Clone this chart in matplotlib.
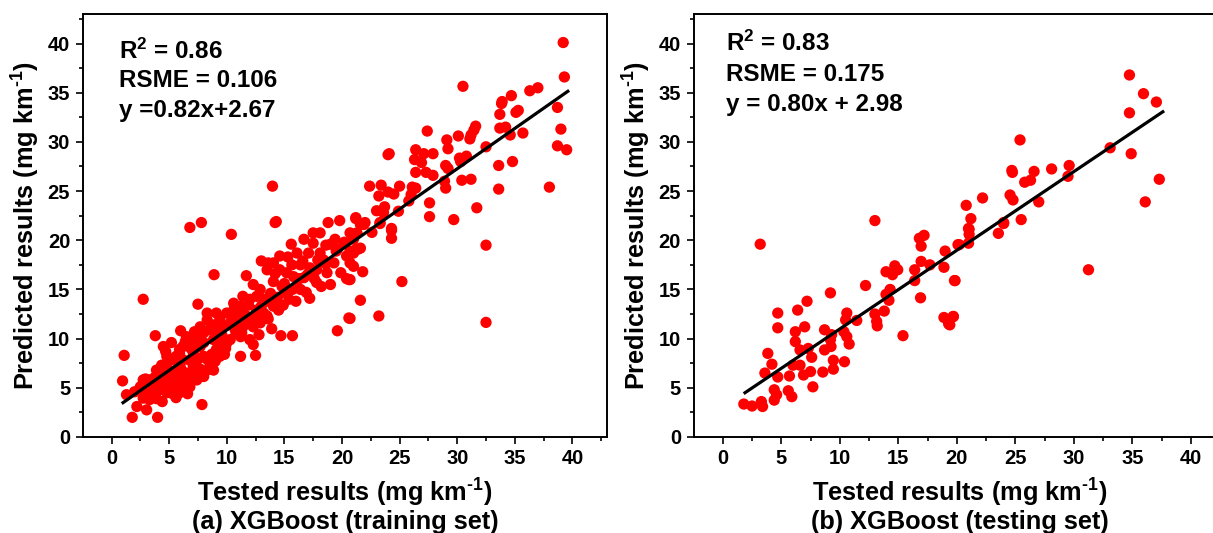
import matplotlib
matplotlib.use("Agg")
import matplotlib.pyplot as plt
import numpy as np

plt.rcParams['font.family'] = ['Liberation Sans', 'DejaVu Sans']
plt.rcParams['font.weight'] = 'bold'
plt.rcParams['mathtext.fontset'] = 'custom'
plt.rcParams['mathtext.rm'] = 'Liberation Sans:bold'
plt.rcParams['mathtext.bf'] = 'Liberation Sans:bold'
plt.rcParams['mathtext.it'] = 'Liberation Sans:bold'

# ---------------- data: training set (tested, predicted) ----------------
train_pts = [
    (13.97, 25.5), (7.8, 21.8), (6.8, 21.3), (14.3, 21.9), (18.8, 21.8), (19.8, 22.0), (21.2, 22.3),
    (39.2, 40.1), (39.3, 36.6), (30.5, 35.65), (37.0, 35.5), (36.3, 35.2), (34.7, 34.7), (33.9, 34.1),
    (33.85, 33.9), (38.7, 33.5), (35.3, 33.2), (35.1, 33.0), (33.7, 32.8), (31.6, 31.6), (34.2, 31.5),
    (33.7, 31.4), (31.45, 31.2), (39.0, 31.3), (27.4, 31.1), (31.2, 30.7), (34.6, 30.7), (35.7, 30.9),
    (30.1, 30.6), (31.1, 30.3), (29.1, 30.2), (29.2, 29.3), (32.5, 29.5), (38.7, 29.6), (39.5, 29.2),
    (24.1, 28.8), (24.0, 28.7), (26.4, 29.2), (27.1, 28.8), (27.9, 28.8), (26.3, 28.2), (26.9, 27.9),
    (30.2, 28.35), (30.8, 28.55), (30.3, 28.0), (29.0, 27.6), (29.2, 27.3), (33.6, 27.6), (34.8, 28.0),
    (26.4, 26.9), (27.3, 26.9), (27.9, 26.6), (28.9, 26.0), (30.4, 26.1), (31.2, 26.2), (22.4, 25.5),
    (23.4, 25.6), (25.0, 25.5), (29.0, 25.3), (38.0, 25.4), (33.6, 25.2), (23.2, 24.5), (24.0, 24.9),
    (24.5, 24.7), (26.1, 25.4), (26.4, 25.3), (26.0, 24.65), (25.8, 24.0), (27.6, 23.8), (31.7, 23.3),
    (27.6, 22.4), (29.7, 22.1), (23.0, 23.0), (23.7, 23.4), (23.6, 22.8), (24.9, 22.95), (21.2, 22.2),
    (22.0, 21.8), (23.3, 21.8), (24.3, 21.2),
    (24.3, 21.0), (24.3, 20.2), (32.5, 19.5), (23.3, 21.7), (22.6, 20.8), (21.4, 19.1), (20.7, 18.9),
    (21.8, 16.8), (25.2, 15.8), (20.7, 16.0), (21.6, 13.9), (23.2, 12.3), (20.7, 12.05), (32.5, 11.65),
    (21.6, 21.6), (21.9, 21.6), (21.3, 20.75), (20.7, 20.75), (20.7, 17.7), (21.0, 18.7), (21.6, 19.2),
    (10.4, 20.6), (14.2, 21.8), (8.9, 16.5), (2.75, 14.0), (1.1, 8.3), (0.96, 5.7), (1.3, 4.3),
    (1.8, 2.0), (4.0, 2.0), (7.85, 3.3), (2.75, 3.95), (2.2, 3.1), (3.05, 2.76), (3.8, 10.3),
    (6.0, 10.8), (11.2, 8.2), (12.5, 8.3), (14.7, 10.3), (15.7, 10.3), (19.6, 10.8), (20.6, 12.1),
    (15.6, 19.6), (11.7, 16.4), (12.3, 15.5), (13.0, 17.9), (7.5, 13.5), (17.2, 14.1), (14.9, 13.4),
    (20.4, 16.1), (2.95, 5.9), (4.5, 9.2), (4.7, 8.7), (4.35, 7.3), (5.9, 8.5), (6.4, 9.7),
    (3.9, 3.9), (4.4, 3.6),
    (17.5, 20.75), (19.0, 19.6), (17.5, 19.7), (17.1, 18.7), (18.1, 18.7), (19.3, 17.7), (20.4, 18.4),
    (21.2, 19.05), (21.0, 17.35), (20.6, 16.0), (19.0, 15.5), (17.8, 15.7), (17.0, 16.5), (16.4, 17.5),
    (15.65, 17.5), (15.2, 16.7), (16.1, 15.3), (14.6, 17.0), (14.05, 17.7), (13.5, 17.0), (14.05, 15.8),
    (13.8, 14.6), (14.05, 13.3), (13.2, 14.0), (13.5, 12.3), (12.6, 12.9), (12.0, 14.0), (11.7, 12.3),
    (11.2, 13.3), (10.6, 13.6), (10.6, 12.3), (10.0, 12.6), (9.4, 11.9), (8.5, 10.9), (7.7, 11.2),
    (8.3, 12.6), (8.85, 9.9), (10.0, 9.55), (11.2, 10.2), (12.0, 9.9), (12.3, 9.4), (9.1, 8.9),
    (8.0, 8.2), (8.55, 7.5), (8.85, 6.8), (8.0, 6.15), (7.1, 7.2), (6.5, 6.5), (6.8, 5.1),
    (5.9, 4.5), (5.4, 5.1), (5.1, 5.8), (4.8, 4.5), (4.2, 4.8), (3.6, 5.1), (3.3, 5.8),
    (4.2, 6.5), (4.8, 7.2), (5.4, 7.85), (6.2, 7.85), (7.1, 8.5), (7.7, 9.2), (6.5, 10.2),
    (7.4, 9.9), (8.0, 10.6), (4.8, 8.2), (5.65, 6.8), (6.2, 5.8), (7.4, 5.8), (8.3, 6.8),
    (5.9, 8.9), (9.1, 10.9), (9.7, 11.2), (10.3, 11.6), (11.4, 11.2), (12.3, 11.2), (12.9, 11.6),
    (13.2, 12.6), (11.4, 12.6), (12.6, 14.3), (11.4, 14.3), (10.6, 12.9), (9.1, 12.6), (8.3, 11.9),
    (14.8, 15.3), (15.2, 14.6), (16.4, 15.0), (15.8, 16.3), (16.7, 16.2), (17.8, 17.0), (18.7, 16.7),
    (18.4, 18.0), (19.9, 16.7), (21.0, 20.1), (19.4, 20.1), (18.1, 20.75), (16.7, 20.1), (16.1, 18.7),
    (14.6, 18.4), (13.6, 17.7),
    (2.75, 5.8), (2.5, 5.1), (3.3, 3.8), (4.8, 6.15), (3.9, 6.8), (2.0, 4.6), (5.6, 4.0),
    (6.6, 4.4), (7.2, 6.6), (9.5, 9.6), (10.8, 10.6), (9.8, 8.4), (6.9, 9.0), (5.2, 9.6),
    (11.9, 13.4), (13.9, 11.0), (15.4, 14.0), (16.9, 14.7), (18.2, 15.3), (19.5, 18.9), (17.6, 16.1),
    (3.5, 4.4), (4.1, 5.6), (4.6, 5.3), (5.0, 6.6), (5.5, 6.1), (6.0, 7.0), (6.3, 6.3),
    (6.8, 7.8), (7.3, 7.5), (7.6, 8.0), (7.0, 6.0), (5.7, 5.2), (5.3, 4.4), (6.4, 5.0),
    (7.7, 6.9), (8.3, 7.9), (8.7, 8.4), (9.0, 7.7), (9.4, 8.2), (9.9, 9.0), (10.3, 9.9),
    (10.7, 11.0), (9.6, 10.3), (8.9, 11.4), (8.0, 9.6), (6.9, 10.0), (7.2, 10.7), (6.2, 9.2),
    (5.6, 8.2), (4.4, 6.9), (3.7, 6.0), (2.9, 4.5), (11.0, 11.9), (11.8, 11.6), (12.5, 12.1),
    (13.0, 13.3), (13.6, 13.8), (14.4, 14.2), (15.0, 15.6), (15.7, 15.0), (16.3, 16.1), (17.2, 17.2),
    (17.9, 18.0), (18.6, 17.6), (19.6, 19.1), (20.2, 19.8), (18.6, 19.5), (16.6, 17.9), (15.3, 18.3),
    (14.2, 16.6), (12.9, 15.0), (11.3, 10.6), (12.8, 10.4), (13.6, 12.0), (14.5, 12.9), (16.0, 13.8),
]

# ---------------- data: testing set (tested, predicted) ----------------
test_pts = [
    (13.0, 22.0), (34.75, 36.8), (35.95, 34.9), (37.05, 34.05), (34.75, 32.95), (25.4, 30.2),
    (33.1, 29.4), (34.9, 28.8), (24.7, 27.1), (24.75, 26.9), (26.6, 27.0), (28.1, 27.25), (29.6, 27.6),
    (29.5, 26.5), (37.3, 26.2), (25.8, 25.9), (26.3, 26.1), (24.55, 24.6), (24.8, 24.1), (22.2, 24.3),
    (27.0, 23.9), (36.1, 23.9), (20.8, 23.55), (21.2, 22.2), (21.0, 21.2), (24.0, 21.8), (25.5, 22.1),
    (21.05, 21.1), (21.05, 20.6), (21.0, 19.7), (20.2, 19.55), (23.55, 20.7), (24.0, 21.7),
    (31.25, 17.0), (19.85, 15.9), (19.7, 12.25), (19.4, 11.4),
    (3.2, 19.6), (16.8, 20.2), (17.2, 20.5), (16.95, 19.4), (19.0, 18.9), (20.1, 19.55), (16.95, 17.85),
    (17.7, 17.5), (16.4, 17.0), (18.9, 17.25), (14.7, 17.4), (14.95, 17.0), (13.95, 16.8), (14.5, 16.5),
    (16.4, 15.9), (19.8, 15.9), (12.2, 15.4), (14.3, 15.0), (13.95, 14.5), (14.2, 13.9), (16.9, 14.15),
    (9.2, 14.65), (7.2, 13.8), (6.4, 12.9), (4.7, 12.6), (4.7, 11.1), (10.6, 12.6), (10.5, 11.9),
    (11.45, 11.85), (13.0, 12.5), (13.15, 11.75), (13.2, 11.3), (13.8, 12.8), (15.4, 10.3), (18.9, 12.15),
    (19.3, 11.5), (19.7, 12.25), (6.2, 10.7), (7.0, 11.2), (8.7, 10.9), (9.3, 10.4), (10.35, 10.7),
    (10.6, 10.2), (6.2, 9.7), (6.6, 8.85), (7.3, 9.0), (7.6, 8.1), (8.7, 8.85), (9.25, 9.2),
    (9.2, 9.9), (10.8, 9.45), (3.85, 8.5), (4.2, 7.4), (3.6, 6.5), (4.7, 6.1), (5.7, 6.2),
    (6.0, 7.3), (6.6, 7.3), (6.9, 6.3), (7.5, 6.65), (8.55, 6.6), (7.7, 5.1), (9.45, 7.8),
    (10.4, 7.65), (9.45, 6.9), (4.4, 4.8), (4.6, 4.3), (4.4, 3.75), (5.6, 4.7), (5.9, 4.1),
    (1.8, 3.35), (2.5, 3.15), (3.3, 3.6), (3.4, 3.1),
]

train_x = [p[0] for p in train_pts]
train_y = [p[1] for p in train_pts]
test_x = [p[0] for p in test_pts]
test_y = [p[1] for p in test_pts]

# fitted lines
train_fit = (0.82, 2.67)
test_fit = (0.80, 2.98)
train_fit_range = (1.0, 39.6)
test_fit_range = (1.9, 37.6)

train_stats = [r'$\mathbf{R^{2}}$ = 0.86', 'RSME = 0.106', 'y =0.82x+2.67']
test_stats = [r'$\mathbf{R^{2}}$ = 0.83', 'RSME = 0.175', 'y = 0.80x + 2.98']
captions = ['(a) XGBoost (training set)', '(b) XGBoost (testing set)']
xlab = 'Tested results (mg km$^{\\mathbf{\u2010}\\mathbf{1}}$)'
ylab = 'Predicted results (mg km$^{\\mathbf{\u2010}\\mathbf{1}}$)'
xticks = [0, 5, 10, 15, 20, 25, 30, 35, 40]
yticks = [0, 5, 10, 15, 20, 25, 30, 35, 40]

W, H = 1213, 533
fig = plt.figure(figsize=(W / 100, H / 100), dpi=100)

def px_axes(l, r, t, b):
    return [l / W, (H - b) / H, (r - l) / W, (b - t) / H]

ax1 = fig.add_axes(px_axes(82.7, 607, 14, 437))
ax2 = fig.add_axes(px_axes(693.5, 1226, 14, 437))

panels = [
    (ax1, train_x, train_y, train_fit, train_fit_range, train_stats, captions[0], [0.913, 0.842, 0.773], 0.069),
    (ax2, test_x, test_y, test_fit, test_fit_range, test_stats, captions[1], [0.931, 0.857, 0.786], 0.061),
]

for ax, xs, ys, fit, fr, stats, cap, ty, tx in panels:
    ax.scatter(xs, ys, s=66, color='#ff0000', edgecolors='none', zorder=2)
    lx = np.array(fr)
    ax.plot(lx, fit[0] * lx + fit[1], color='black', lw=2.3, zorder=3)
    ax.set_xlim(-2.5, 43)
    ax.set_ylim(0, 43)
    ax.set_xticks(xticks)
    ax.set_yticks(yticks)
    ax.set_xticks(np.arange(2.5, 43, 5), minor=True)
    ax.set_yticks(np.arange(2.5, 43, 5), minor=True)
    ax.tick_params(which='major', direction='out', length=5, width=1.2, labelsize=14.5, pad=4)
    ax.tick_params(which='minor', direction='out', length=3, width=1.2)
    ax.tick_params(top=False, right=False)
    for lab in ax.get_xticklabels() + ax.get_yticklabels():
        lab.set_fontweight('bold')
    for sp in ax.spines.values():
        sp.set_linewidth(1.4)
    for s, yy in zip(stats, ty):
        ax.text(tx, yy, s, transform=ax.transAxes, fontsize=17.5, fontweight='bold', va='center', ha='left')
    ax.text(0.5, -0.133, xlab, transform=ax.transAxes, fontsize=18.3, fontweight='bold', ha='center', va='center')
    ax.text(0.5, -0.2, cap, transform=ax.transAxes, fontsize=18.3, fontweight='bold', ha='center', va='center')
    ax.set_ylabel(ylab, fontsize=18.3, fontweight='bold', labelpad=4)

fig.savefig('out.png', dpi=100)
